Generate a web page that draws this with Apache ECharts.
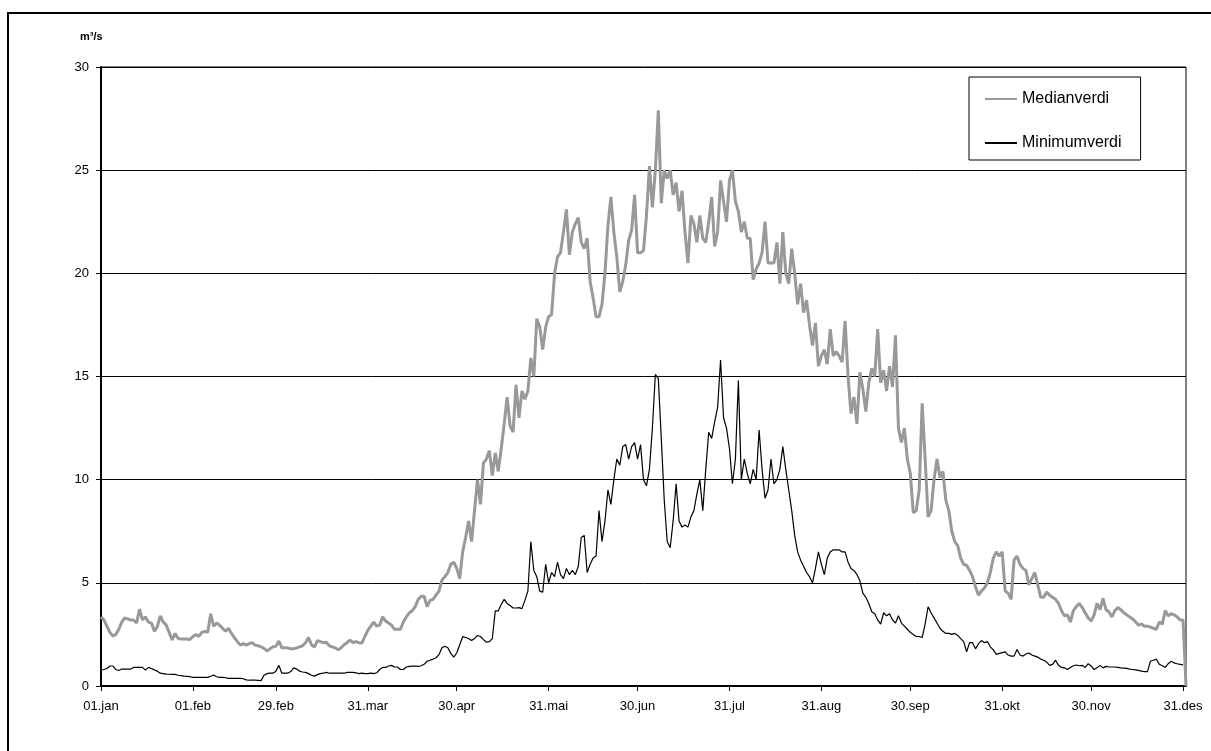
<!DOCTYPE html>
<html>
<head>
<meta charset="utf-8">
<script src="https://cdn.jsdelivr.net/npm/echarts@6/dist/echarts.min.js"></script>
<style>
  html, body { margin: 0; padding: 0; background: #fff; }
  #chart { width: 1211px; height: 751px; }
</style>
</head>
<body>
<div id="chart"></div>
<script>
// tick positions (day index in the year) and their labels
const tickDays = [0, 31, 59, 90, 120, 151, 181, 212, 243, 273, 304, 334, 365]
const tickLabels = ['01.jan', '01.feb', '29.feb', '31.mar', '30.apr', '31.mai', '30.jun',
  '31.jul', '31.aug', '30.sep', '31.okt', '30.nov', '31.des']

// daily median flow, m3/s (last point falls to zero)
const median = [
  3.35, 3.2, 2.9, 2.6, 2.42, 2.5, 2.75, 3.1, 3.3, 3.25,
  3.2, 3.2, 3.05, 3.72, 3.2, 3.35, 3.1, 3.05, 2.66, 2.88,
  3.4, 3.1, 2.95, 2.6, 2.23, 2.55, 2.3, 2.28, 2.28, 2.28,
  2.25, 2.4, 2.5, 2.4, 2.6, 2.65, 2.6, 3.5, 2.9, 3.05,
  2.95, 2.8, 2.65, 2.8, 2.55, 2.35, 2.15, 1.98, 2.05, 1.98,
  2.05, 2.1, 1.98, 1.95, 1.9, 1.82, 1.7, 1.8, 1.9, 1.92,
  2.18, 1.85, 1.85, 1.85, 1.8, 1.8, 1.85, 1.9, 1.95, 2.1,
  2.35, 2.0, 1.88, 2.2, 2.15, 2.1, 2.12, 1.95, 1.9, 1.85,
  1.75, 1.85, 2.0, 2.1, 2.23, 2.1, 2.15, 2.1, 2.08, 2.4,
  2.7, 2.9, 3.1, 2.9, 2.95, 3.35, 3.15, 3.05, 2.95, 2.75,
  2.75, 2.75, 3.1, 3.35, 3.55, 3.65, 3.85, 4.2, 4.35, 4.35,
  3.85, 4.15, 4.2, 4.4, 4.6, 5.13, 5.3, 5.5, 5.9, 6.0,
  5.7, 5.2, 6.5, 7.2, 8.0, 7.0, 8.5, 10.0, 8.8, 10.8,
  11.0, 11.4, 10.2, 11.3, 10.4, 11.5, 12.7, 14.0, 12.6, 12.3,
  14.6, 13.0, 14.3, 13.9, 14.3, 15.9, 15.0, 17.8, 17.4, 16.3,
  17.4, 17.9, 18.0, 20.0, 20.8, 21.0, 22.0, 23.1, 20.9, 22.0,
  22.4, 22.7, 21.5, 21.2, 21.7, 19.6, 18.8, 17.9, 17.9, 18.5,
  20.0, 22.3, 23.7, 22.0, 20.8, 19.1, 19.6, 20.4, 21.6, 22.1,
  23.8, 21.0, 21.0, 21.1, 22.8, 25.2, 23.2, 25.0, 27.9, 23.4,
  25.0, 24.6, 25.0, 23.8, 24.4, 23.0, 24.0, 22.0, 20.5, 22.8,
  22.4, 21.5, 22.8, 21.7, 21.5, 22.5, 23.7, 21.3, 22.0, 24.5,
  23.5, 22.5, 24.5, 25.0, 23.5, 23.0, 22.0, 22.5, 21.7, 21.7,
  19.7, 20.2, 20.5, 21.0, 22.5, 20.5, 20.5, 20.5, 21.5, 19.5,
  22.0, 20.0, 19.5, 21.2, 20.0, 18.5, 19.5, 18.1, 18.7, 17.5,
  16.5, 17.6, 15.5, 16.0, 16.3, 15.6, 17.3, 16.0, 16.2, 16.0,
  15.7, 17.7, 15.0, 13.2, 14.0, 12.7, 15.2, 14.4, 13.3, 14.7,
  15.4, 15.0, 17.3, 14.7, 15.3, 14.3, 15.5, 14.5, 17.0, 12.5,
  11.8, 12.5, 11.0, 10.3, 8.4, 8.5, 9.5, 13.7, 11.0, 8.2,
  8.5, 10.0, 11.0, 10.1, 10.4, 9.0, 8.5, 7.5, 7.0, 6.8,
  6.2, 5.9, 5.85, 5.6, 5.3, 4.8, 4.4, 4.6, 4.75, 5.0,
  5.5, 6.2, 6.5, 6.3, 6.5, 4.6, 4.5, 4.2, 6.1, 6.3,
  5.9, 5.7, 5.6, 4.9, 5.2, 5.5, 4.9, 4.3, 4.3, 4.56,
  4.4, 4.3, 4.2, 4.0, 3.65, 3.4, 3.45, 3.1, 3.65, 3.85,
  4.0, 3.8, 3.55, 3.3, 3.15, 3.45, 4.0, 3.7, 4.25, 3.7,
  3.6, 3.35, 3.65, 3.8, 3.7, 3.55, 3.45, 3.35, 3.25, 3.1,
  2.95, 3.0, 2.9, 2.9, 2.85, 2.8, 2.75, 3.1, 3.0, 3.65,
  3.4, 3.5, 3.45, 3.35, 3.2, 3.2, 0
]

// daily minimum flow, m3/s
const minimum = [
  0.77, 0.8, 0.85, 0.97, 0.97, 0.8, 0.75, 0.82, 0.82, 0.82,
  0.82, 0.9, 0.9, 0.9, 0.9, 0.77, 0.9, 0.85, 0.78, 0.72,
  0.62, 0.6, 0.58, 0.57, 0.56, 0.56, 0.52, 0.5, 0.48, 0.47,
  0.45, 0.42, 0.42, 0.42, 0.42, 0.42, 0.42, 0.47, 0.53, 0.45,
  0.42, 0.42, 0.4, 0.37, 0.37, 0.37, 0.37, 0.37, 0.35, 0.3,
  0.28, 0.28, 0.28, 0.27, 0.26, 0.52, 0.6, 0.62, 0.62, 0.72,
  1.0, 0.62, 0.62, 0.62, 0.7, 0.88, 0.82, 0.72, 0.68, 0.66,
  0.6, 0.52, 0.48, 0.55, 0.6, 0.62, 0.66, 0.62, 0.62, 0.62,
  0.62, 0.62, 0.62, 0.66, 0.66, 0.66, 0.64, 0.6, 0.62, 0.6,
  0.6, 0.62, 0.6, 0.64, 0.8, 0.9, 0.9, 0.97, 1.0, 0.92,
  0.92, 0.8, 0.8, 0.92, 0.95, 0.96, 0.97, 0.95, 0.98, 1.05,
  1.2, 1.25, 1.3, 1.37, 1.52, 1.85, 1.93, 1.85, 1.58, 1.4,
  1.6, 2.0, 2.39, 2.35, 2.3, 2.2, 2.3, 2.45, 2.4, 2.25,
  2.12, 2.15, 2.3, 3.64, 3.64, 3.95, 4.2, 4.0, 3.9, 3.78,
  3.78, 3.8, 3.75, 4.15, 4.6, 7.0, 5.6, 5.3, 4.6, 4.55,
  5.9, 5.0, 5.5, 5.3, 6.0, 5.4, 5.2, 5.7, 5.4, 5.6,
  5.4, 5.8, 7.2, 7.3, 5.5, 5.9, 6.2, 6.3, 8.5, 7.0,
  8.0, 9.5, 8.8, 10.0, 11.0, 10.7, 11.6, 11.7, 11.0, 11.6,
  11.8, 11.0, 11.7, 10.0, 9.7, 10.5, 12.5, 15.1, 14.9, 12.0,
  9.0, 7.0, 6.7, 8.0, 9.8, 8.0, 7.7, 7.8, 7.7, 8.2,
  8.5, 9.3, 10.0, 8.5, 10.5, 12.3, 12.0, 12.8, 13.5, 15.8,
  13.0, 12.5, 11.5, 9.8, 11.0, 14.8, 10.0, 11.0, 10.3, 9.8,
  10.5, 10.0, 12.4, 10.5, 9.1, 9.5, 11.0, 9.8, 10.0, 10.5,
  11.6, 10.5, 9.5, 8.5, 7.3, 6.5, 6.1, 5.8, 5.5, 5.3,
  5.0, 5.7, 6.5, 5.9, 5.4, 6.2, 6.5, 6.6, 6.6, 6.6,
  6.5, 6.5, 6.0, 5.7, 5.6, 5.4, 5.1, 4.5, 4.3, 4.0,
  3.6, 3.5, 3.2, 3.0, 3.55, 3.4, 3.5, 3.2, 3.05, 3.4,
  3.05, 2.9, 2.75, 2.6, 2.5, 2.4, 2.4, 2.35, 3.0, 3.84,
  3.55, 3.3, 3.05, 2.8, 2.65, 2.55, 2.55, 2.5, 2.55, 2.45,
  2.3, 2.15, 1.66, 2.1, 2.1, 1.8, 2.05, 2.2, 2.1, 2.15,
  1.9, 1.75, 1.53, 1.58, 1.62, 1.65, 1.5, 1.45, 1.45, 1.77,
  1.5, 1.45, 1.55, 1.6, 1.5, 1.45, 1.4, 1.3, 1.25, 1.16,
  1.0, 1.05, 1.25, 1.0, 0.9, 0.88, 0.8, 0.9, 0.98, 1.02,
  0.98, 1.0, 0.9, 1.08, 0.97, 0.8, 0.88, 1.0, 0.88, 0.95,
  0.92, 0.92, 0.92, 0.9, 0.88, 0.87, 0.85, 0.82, 0.8, 0.78,
  0.76, 0.72, 0.7, 0.7, 1.2, 1.25, 1.3, 1.05, 0.98, 0.9,
  1.08, 1.2, 1.12, 1.08, 1.05, 1.02
]

const FONT = '"Liberation Sans", Arial, sans-serif'

// one category per day
const days = median.map((_, i) => String(i))
const labelAt = {}
tickDays.forEach((d, i) => { labelAt[d] = tickLabels[i] })
const isTick = (i) => labelAt[i] !== undefined

const chart = echarts.init(document.getElementById('chart'))

chart.setOption({
  animation: false,
  backgroundColor: '#fff',
  textStyle: { fontFamily: FONT },
  grid: {
    left: 101,
    right: 25,
    top: 67,
    bottom: 65,
    show: true,
    borderColor: '#000',
    borderWidth: 1,
  },
  // outer frame and unit label
  graphic: [
    {
      type: 'rect',
      silent: true,
      shape: { x: 8, y: 13, width: 1400, height: 900 },
      style: { fill: 'none', stroke: '#000', lineWidth: 2 },
    },
    {
      type: 'text',
      left: 80,
      top: 31,
      style: { text: 'm³/s', font: 'bold 11px ' + FONT, fill: '#000' },
    },
  ],
  legend: {
    orient: 'vertical',
    left: 969,
    top: 77,
    padding: [14, 19, 9, 15],
    itemGap: 28,
    itemWidth: 32,
    itemHeight: 14,
    backgroundColor: '#fff',
    borderColor: '#000',
    borderWidth: 1,
    itemStyle: { opacity: 0 },
    textStyle: { fontSize: 16, color: '#000', fontFamily: FONT },
    data: ['Medianverdi', 'Minimumverdi'],
  },
  xAxis: {
    type: 'category',
    data: days,
    boundaryGap: false,
    axisLine: { lineStyle: { color: '#000', width: 2 } },
    axisTick: {
      interval: (i) => isTick(i),
      length: 5,
      lineStyle: { color: '#000', width: 1 },
    },
    axisLabel: {
      interval: (i) => isTick(i),
      formatter: (v, i) => labelAt[i] || '',
      margin: 14,
      fontSize: 13,
      color: '#000',
      fontFamily: FONT,
    },
    splitLine: { show: false },
  },
  yAxis: {
    type: 'value',
    min: 0,
    max: 30,
    interval: 5,
    axisLine: { show: true, lineStyle: { color: '#000', width: 2 } },
    axisTick: { show: true, length: 5, lineStyle: { color: '#000' } },
    axisLabel: { margin: 12, fontSize: 13, color: '#000', fontFamily: FONT },
    splitLine: { lineStyle: { color: '#000', width: 1 } },
  },
  series: [
    {
      name: 'Medianverdi',
      type: 'line',
      data: median,
      symbol: 'none',
      lineStyle: { color: '#999999', width: 3 },
      itemStyle: { color: '#999999' },
    },
    {
      name: 'Minimumverdi',
      type: 'line',
      data: minimum,
      symbol: 'none',
      lineStyle: { color: '#000', width: 1.2 },
      itemStyle: { color: '#000' },
    },
  ],
})
</script>
</body>
</html>
